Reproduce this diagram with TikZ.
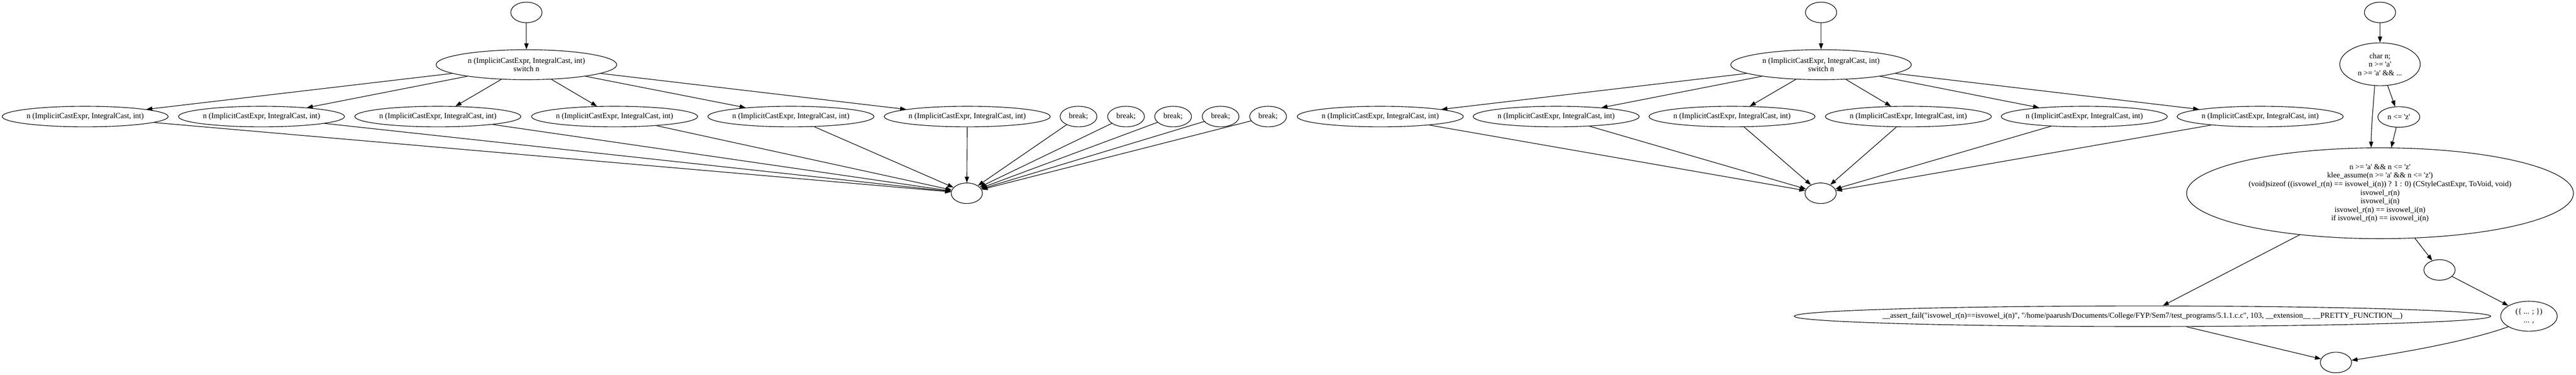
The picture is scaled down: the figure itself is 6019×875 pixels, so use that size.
\documentclass[tikz,border=0pt]{standalone}
\usepackage{fontspec}
\newfontfamily\gv{Liberation Serif}
\usetikzlibrary{shapes.geometric,arrows.meta}
\newcommand\zl[1]{\makebox[0pt]{#1}}
\begin{document}
\begin{tikzpicture}[x=1pt,y=-1pt,
  every node/.style={font=\gv\fontsize{18}{20}\selectfont},
  gnode/.style={draw, ellipse, line width=1.35pt, inner sep=0pt, align=center},
  small/.style={gnode, minimum width=73pt, minimum height=48pt},
  wide/.style={gnode, minimum width=388pt, minimum height=48pt},
  sw/.style={gnode, minimum width=422pt, minimum height=70pt},
  brk/.style={gnode, minimum width=86pt, minimum height=48pt},
  edge/.style={-{Triangle[length=14pt,width=10pt]}, line width=1.35pt}]
\useasboundingbox (0,0) rectangle (6019,875);

% ---------- component 1 ----------
\node[small] (t1) at (1230,29) {};
\node[sw] (s1) at (1230,151) {\zl{n (ImplicitCastExpr, IntegralCast, int)}\\\zl{switch n}};
\foreach \i/\x in {1/199,2/611,3/1023,4/1436,5/1848,6/2260}
  {\node[wide] (c\i) at (\x,272) {\zl{n (ImplicitCastExpr, IntegralCast, int)}};}
\foreach \i/\x in {1/2520,2/2631,3/2741,4/2852,5/2963}
  {\node[brk] (b\i) at (\x,272) {\zl{break;}};}
\node[small] (k1) at (2259,451) {};
\draw[edge] (t1) -- (s1);
\foreach \i in {1,...,6} {\draw[edge] (s1) -- (c\i); \draw[edge] (c\i) -- (k1);}
\foreach \i in {1,...,5} {\draw[edge] (b\i) -- (k1);}

% ---------- component 2 ----------
\node[small] (t2) at (4255,29) {};
\node[sw] (s2) at (4255,151) {\zl{n (ImplicitCastExpr, IntegralCast, int)}\\\zl{switch n}};
\foreach \i/\x in {1/3225,2/3636,3/4047,4/4459,5/4870,6/5281}
  {\node[wide] (d\i) at (\x,272) {\zl{n (ImplicitCastExpr, IntegralCast, int)}};}
\node[small] (k2) at (4254,451) {};
\draw[edge] (t2) -- (s2);
\foreach \i in {1,...,6} {\draw[edge] (s2) -- (d\i); \draw[edge] (d\i) -- (k2);}

% ---------- component 3 ----------
\node[small] (t3) at (5561,29) {};
\node[gnode, minimum width=188pt, minimum height=100pt] (n1) at (5561,150)
  {\zl{char n;}\\\zl{n >= 'a'}\\\zl{n >= 'a' \&\& ...}};
\node[gnode, minimum width=98pt, minimum height=48pt] (n2) at (5605,273) {\zl{n <= 'z'}};
\node[gnode, minimum width=904pt, minimum height=212pt] (bb) at (5561,451)
  {\zl{n >= 'a' \&\& n <= 'z'}\\
   \zl{klee\_assume(n >= 'a' \&\& n <= 'z')}\\
   \zl{(void)sizeof ((isvowel\_r(n) == isvowel\_i(n)) ? 1 : 0) (CStyleCastExpr, ToVoid, void)}\\
   \zl{isvowel\_r(n)}\\
   \zl{isvowel\_i(n)}\\
   \zl{isvowel\_r(n) == isvowel\_i(n)}\\
   \zl{if isvowel\_r(n) == isvowel\_i(n)}};
\node[small] (ee) at (5700,630) {};
\node[gnode, minimum width=132pt, minimum height=70pt] (ff) at (5909,738)
  {\zl{(\{ ... ;  \})}\\\zl{... ,}};
\node[gnode, minimum width=1627pt, minimum height=48pt] (aa) at (5006,738)
  {\zl{\_\_assert\_fail("isvowel\_r(n)==isvowel\_i(n)", "/home/paarush/Documents/College/FYP/Sem7/test\_programs/5.1.1.c.c", 103, \_\_extension\_\_ \_\_PRETTY\_FUNCTION\_\_)}};
\node[small] (k3) at (5458,846) {};

\draw[edge] (t3) -- (n1);
\draw[edge] (n1) -- (n2);
\draw[edge] (n1.256) .. controls +(-3,45) and +(0,-45) .. (bb.101);
\draw[edge] (n2) -- (bb);
\draw[edge] (bb) -- (aa);
\draw[edge] (bb) -- (ee);
\draw[edge] (ee) -- (ff);
\draw[edge] (aa) -- (k3);
\draw[edge] (ff.207) .. controls +(-100,36) and +(100,-15) .. (k3.8);
\end{tikzpicture}
\end{document}
